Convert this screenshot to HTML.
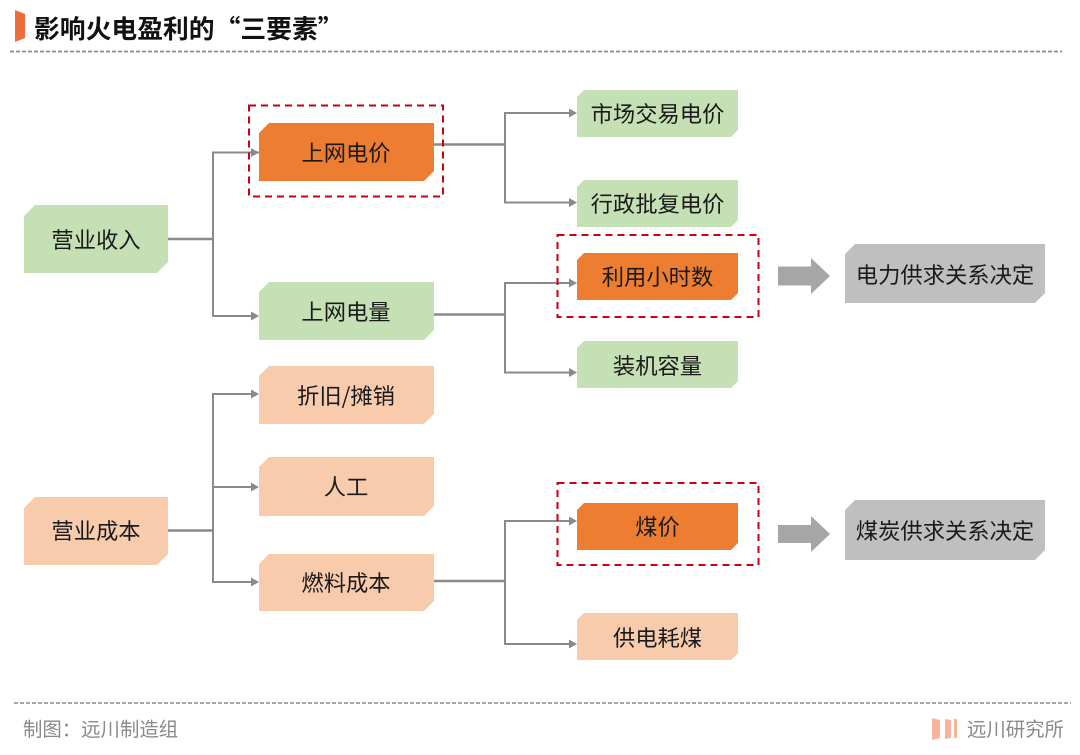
<!DOCTYPE html>
<html lang="zh">
<head>
<meta charset="utf-8">
<title>影响火电盈利的“三要素”</title>
<style>
html,body{margin:0;padding:0;background:#fff;width:1080px;height:755px;overflow:hidden}
svg{display:block}
text{font-family:"Noto Sans CJK SC","Liberation Sans",sans-serif}
.n{font-size:22.3px;fill:#1a1a1a;text-anchor:middle}
.c{fill:none;stroke:#8a8a8a;stroke-width:2}
.c2{fill:none;stroke:#8a8a8a;stroke-width:2.5}
.h{fill:#8a8a8a}
.r{fill:none;stroke:#c9000f;stroke-width:2;stroke-dasharray:7 5}
.g{fill:#c5e0b4}.o{fill:#ed7d31}.p{fill:#f8cbad}.y{fill:#bfbfbf}
</style>
</head>
<body>
<svg width="1080" height="755" viewBox="0 0 1080 755" xmlns="http://www.w3.org/2000/svg">
<rect width="1080" height="755" fill="#fff"/>

<!-- header -->
<polygon points="15,10 25,14 25,38 15,42" fill="#ee6c3c"/>
<text x="34" y="38" font-size="25.8" font-weight="700" fill="#111">影响火电盈利的“三要素”</text>
<line x1="10" y1="51.5" x2="1062" y2="51.5" stroke="#8c8c8c" stroke-width="1.8" stroke-dasharray="4 2"/>

<!-- connectors -->
<path class="c2" d="M168 239H213"/>
<path class="c" d="M259 152.5H213V316H252"/>
<path class="c2" d="M434 144.5H505"/>
<path class="c" d="M570 113H505V202.500H570"/>
<path class="c2" d="M434 314.500H505"/>
<path class="c" d="M570 283H505V372.500H570"/>
<path class="c2" d="M168 530.500H213"/>
<path class="c" d="M252 394H213V582H252M213 487H252"/>
<path class="c2" d="M434 581H505"/>
<path class="c" d="M570 521H505V644H570"/>

<!-- arrowheads -->
<polygon class="h" points="251,148 259,152.500 251,157"/>
<polygon class="h" points="251,311.500 259,316 251,320.500"/>
<polygon class="h" points="251,389.500 259,394 251,398.500"/>
<polygon class="h" points="251,482.500 259,487 251,491.500"/>
<polygon class="h" points="251,577.500 259,582 251,586.500"/>
<polygon class="h" points="569,108.500 577,113 569,117.500"/>
<polygon class="h" points="569,198 577,202.500 569,207"/>
<polygon class="h" points="569,278.500 577,283 569,287.500"/>
<polygon class="h" points="569,368 577,372.500 569,377"/>
<polygon class="h" points="569,516.500 577,521 569,525.500"/>
<polygon class="h" points="569,639.500 577,644 569,648.500"/>

<!-- nodes -->
<polygon class="g" points="35,205 168,205 168,262 157,273 24,273 24,216"/>
<polygon class="p" points="35,497 168,497 168,554 157,565 24,565 24,508"/>

<polygon class="o" points="269,123 434,123 434,171 424,181 259,181 259,133"/>
<polygon class="g" points="269,282 434,282 434,330 424,340 259,340 259,292"/>
<polygon class="p" points="269,366 434,366 434,414 424,424 259,424 259,376"/>
<polygon class="p" points="269,457 434,457 434,506 424,516 259,516 259,467"/>
<polygon class="p" points="269,554 434,554 434,601 424,611 259,611 259,564"/>

<polygon class="g" points="584,90 738,90 738,130 731,137 577,137 577,97"/>
<polygon class="g" points="584,180 738,180 738,220 731,227 577,227 577,187"/>
<polygon class="o" points="584,253 738,253 738,293 731,300 577,300 577,260"/>
<polygon class="g" points="584,341 738,341 738,381 731,388 577,388 577,348"/>
<polygon class="o" points="584,503 738,503 738,543 731,550 577,550 577,510"/>
<polygon class="p" points="584,613 738,613 738,653 731,660 577,660 577,620"/>

<polygon class="y" points="855,244 1045,244 1045,293 1035,303 845,303 845,254"/>
<polygon class="y" points="855,500 1045,500 1045,550 1035,560 845,560 845,510"/>

<!-- block arrows -->
<polygon fill="#a6a6a6" points="778,266.500 811,266.500 811,258 830,276 811,294 811,285.500 778,285.500"/>
<polygon fill="#a6a6a6" points="778,525 811,525 811,516 830,534 811,552 811,543 778,543"/>

<!-- red dashed boxes -->
<rect class="r" x="249" y="105.500" width="194" height="91"/>
<rect class="r" x="557.500" y="235" width="201" height="82"/>
<rect class="r" x="557.500" y="483" width="201" height="82"/>

<!-- labels -->
<text class="n" x="96" y="248">营业收入</text>
<text class="n" x="96" y="539">营业成本</text>
<text class="n" x="346" y="161">上网电价</text>
<text class="n" x="346" y="320">上网电量</text>
<text class="n" x="346" y="404">折旧/摊销</text>
<text class="n" x="346" y="495">人工</text>
<text class="n" x="346" y="591">燃料成本</text>
<text class="n" x="657.500" y="122">市场交易电价</text>
<text class="n" x="657.500" y="212">行政批复电价</text>
<text class="n" x="657.500" y="285">利用小时数</text>
<text class="n" x="657.500" y="374">装机容量</text>
<text class="n" x="657.500" y="535">煤价</text>
<text class="n" x="657.500" y="646">供电耗煤</text>
<text class="n" x="945" y="283">电力供求关系决定</text>
<text class="n" x="945" y="539">煤炭供求关系决定</text>

<!-- footer -->
<line x1="14" y1="703" x2="1071" y2="703" stroke="#8c8c8c" stroke-width="1.5" stroke-dasharray="4 2"/>
<text x="23" y="736" font-size="19.400" fill="#8a8a8a">制图：远川制造组</text>
<polygon points="932,718 940,720 940,738 932,740" fill="#f8b49c"/>
<polygon points="945,719 951,720 951,738 945,739" fill="#f8b49c"/>
<polygon points="954,719 957,719 957,738 954,738" fill="#f8b49c"/>
<text x="967" y="736" font-size="19.400" fill="#8a8a8a">远川研究所</text>
</svg>
</body>
</html>
